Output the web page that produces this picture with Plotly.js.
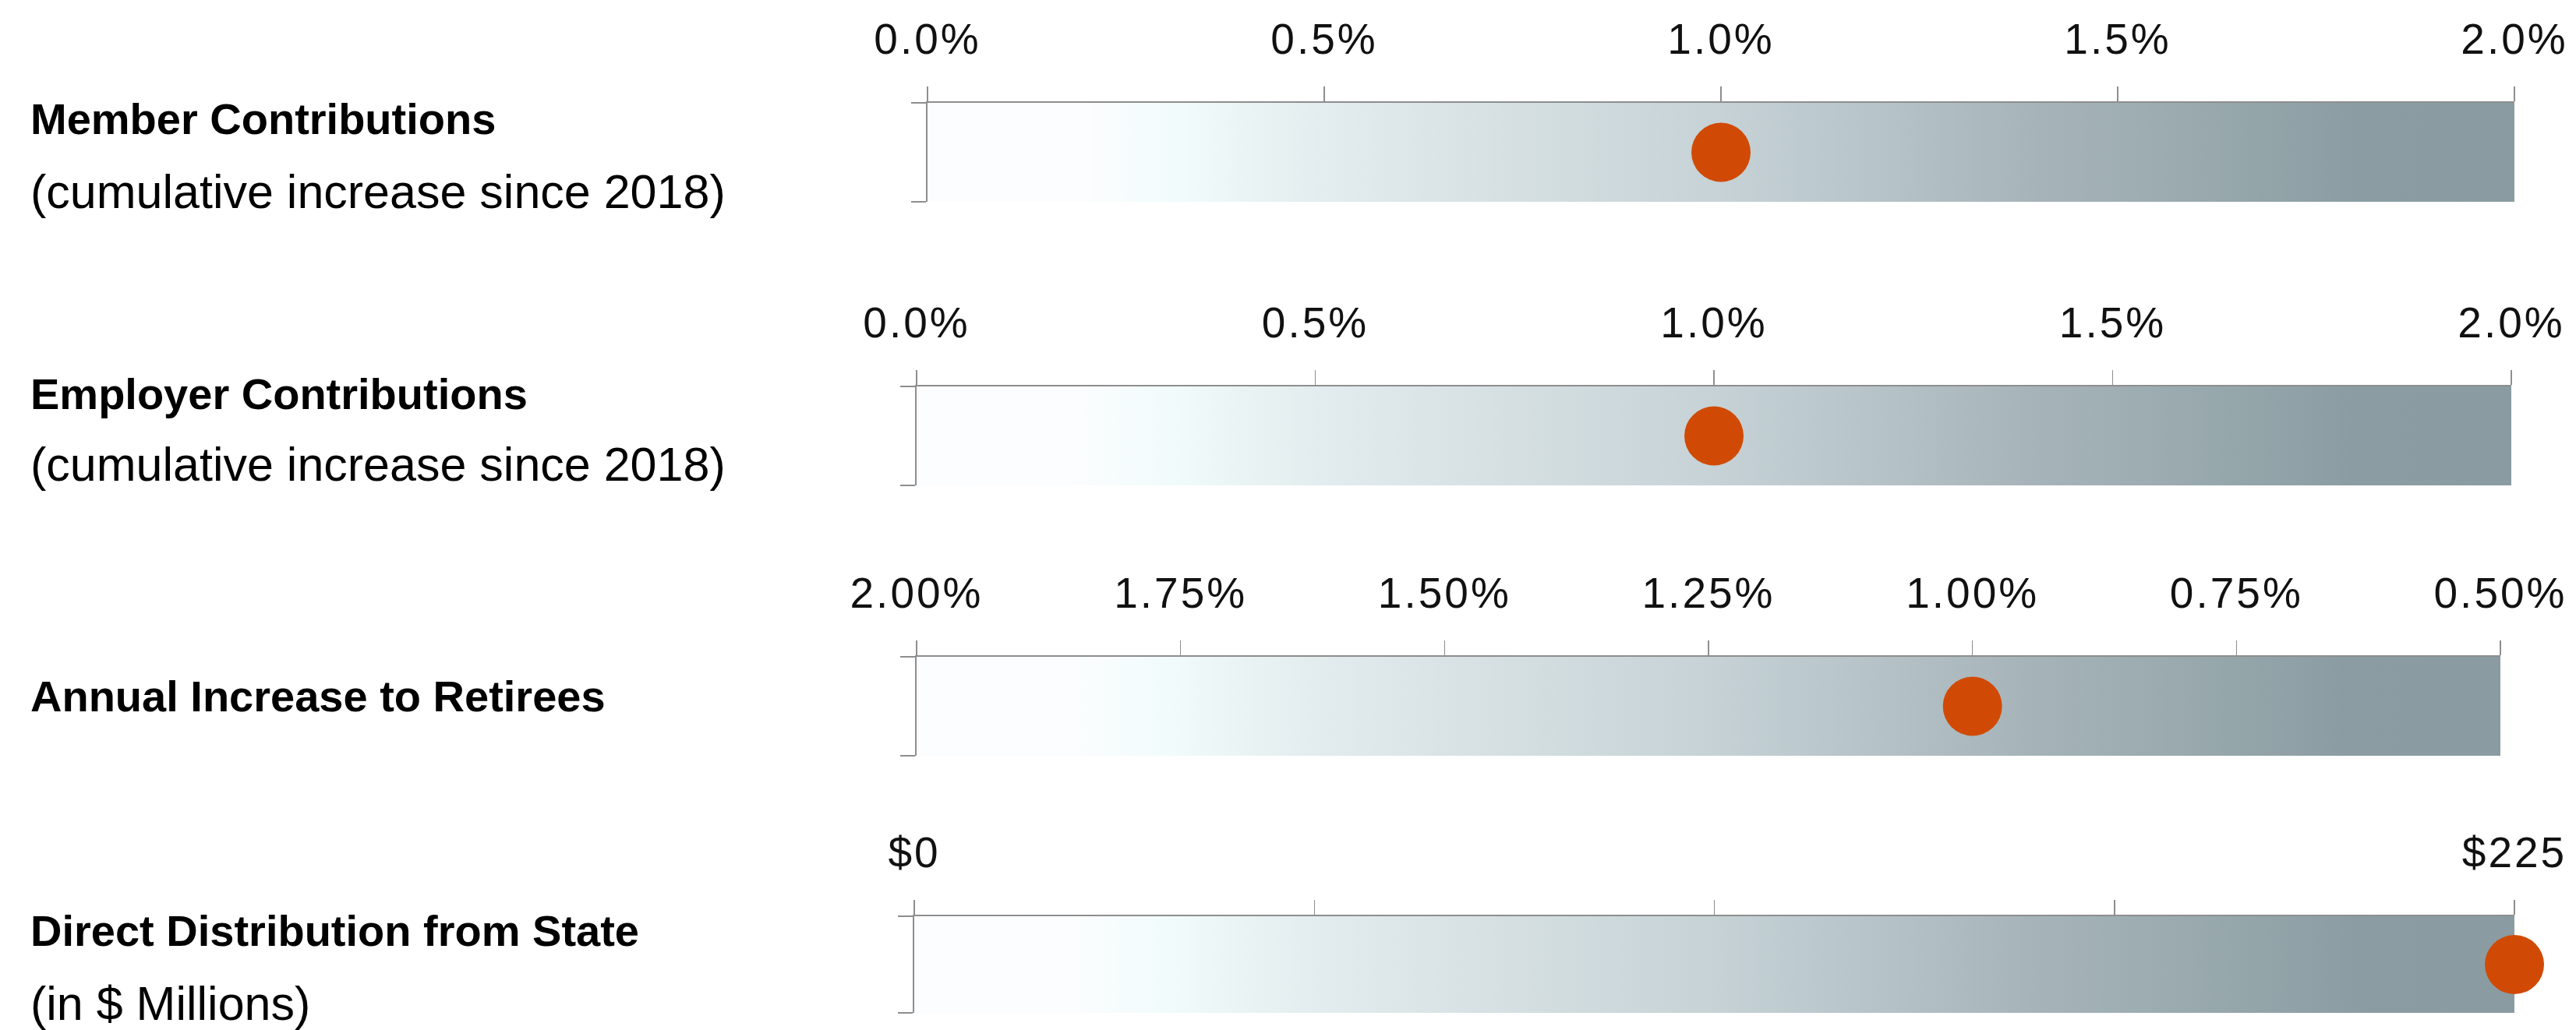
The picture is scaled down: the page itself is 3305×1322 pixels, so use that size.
<!DOCTYPE html>
<html>
<head>
<meta charset="utf-8">
<script src="https://cdn.plot.ly/plotly-3.0.1.min.js"></script>
<style>
  html, body { margin: 0; padding: 0; background: #ffffff; }
  #chart { width: 3305px; height: 1322px; }
  .xtick text, .x2tick text, .x3tick text, .x4tick text { letter-spacing: 3px; }
</style>
</head>
<body>
<div id="chart"></div>
<script>
// ---------------- DATA ----------------
const categories = ["Member Contributions", "Employer Contributions", "Annual Increase to Retirees", "Direct Distribution from State"];
const subtitles  = ["(cumulative increase since 2018)", "(cumulative increase since 2018)", "", "(in $ Millions)"];
const values     = [1.0, 1.0, 1.0, 225];
const rangeMin   = [0, 0, 0.5, 0];
const rangeMax   = [2, 2, 2.0, 225];
const reversedAxis = [false, false, true, false];

const ticksMember    = [0, 0.5, 1.0, 1.5, 2.0];
const labelsMember   = ["0.0%", "0.5%", "1.0%", "1.5%", "2.0%"];
const ticksEmployer  = [0, 0.5, 1.0, 1.5, 2.0];
const labelsEmployer = ["0.0%", "0.5%", "1.0%", "1.5%", "2.0%"];
const ticksRetirees  = [2.0, 1.75, 1.5, 1.25, 1.0, 0.75, 0.5];
const labelsRetirees = ["2.00%", "1.75%", "1.50%", "1.25%", "1.00%", "0.75%", "0.50%"];
const ticksState     = [0, 56.25, 112.5, 168.75, 225];
const labelsState    = ["$0", "", "", "", "$225"];

const tickVals  = [ticksMember, ticksEmployer, ticksRetirees, ticksState];
const tickTexts = [labelsMember, labelsEmployer, labelsRetirees, labelsState];

// ---------------- LAYOUT GEOMETRY (pixels) ----------------
const W = 3305, H = 1322;
const boxes = [
  {x0: 1190, x1: 3226, top: 132,  bot: 259},
  {x0: 1176, x1: 3222, top: 496,  bot: 623},
  {x0: 1176, x1: 3208, top: 843,  bot: 970},
  {x0: 1173, x1: 3226, top: 1176, bot: 1300}
];
const titleOffset = [20, 10, 51, 18];
const subOffset   = [114, 100, 0, 112];

const gradient = [
  [0.00, '#fcfdfe'],
  [0.10, '#fbfdfe'],
  [0.16, '#f1fbfb'],
  [0.25, '#e3ecee'],
  [0.50, '#c6d2d6'],
  [0.70, '#a6b4b9'],
  [0.83, '#95a6ab'],
  [0.90, '#8b9da3'],
  [1.00, '#8a9ca2']
];

const axisGray = '#8e8e8e';
const fontFam = 'Liberation Sans, Arial, Helvetica, sans-serif';

const traces = [];
const layout = {
  width: W, height: H,
  margin: {l: 0, r: 0, t: 0, b: 0},
  paper_bgcolor: '#ffffff',
  plot_bgcolor: 'rgba(0,0,0,0)',
  showlegend: false,
  annotations: []
};

categories.forEach((cat, i) => {
  const n = i === 0 ? '' : String(i + 1);
  const xa = 'x' + n, ya = 'y' + n;
  const b = boxes[i];

  traces.push({
    type: 'scatter', mode: 'lines',
    x: [rangeMin[i], rangeMax[i], rangeMax[i], rangeMin[i]],
    y: [-1, -1, 1, 1],
    fill: 'toself',
    fillgradient: {type: 'horizontal', colorscale: gradient},
    line: {width: 0},
    hoverinfo: 'skip',
    xaxis: xa, yaxis: ya
  });
  traces.push({
    type: 'scatter', mode: 'markers',
    x: [values[i]], y: [0],
    marker: {size: 76, color: '#d14a05', line: {width: 0}},
    cliponaxis: false,
    xaxis: xa, yaxis: ya
  });

  layout['xaxis' + n] = {
    domain: [b.x0 / W, b.x1 / W],
    anchor: ya, side: 'top',
    range: reversedAxis[i] ? [rangeMax[i], rangeMin[i]] : [rangeMin[i], rangeMax[i]],
    tickmode: 'array', tickvals: tickVals[i], ticktext: tickTexts[i],
    ticks: 'outside', ticklen: 19, tickwidth: 1.5, tickcolor: axisGray,
    showline: true, linecolor: axisGray, linewidth: 2.5,
    showgrid: false, zeroline: false, fixedrange: true,
    tickfont: {family: fontFam, size: 55, color: '#111111'},
    ticklabelstandoff: 20
  };
  layout['yaxis' + n] = {
    domain: [1 - b.bot / H, 1 - b.top / H],
    anchor: xa, range: [-1, 1],
    tickmode: 'array', tickvals: [-1, 1], ticktext: ['', ''],
    ticks: 'outside', ticklen: 19, tickwidth: 1.5, tickcolor: axisGray,
    showticklabels: false,
    showline: true, linecolor: axisGray, linewidth: 2,
    showgrid: false, zeroline: false, fixedrange: true
  };

  layout.annotations.push({
    xref: 'paper', yref: 'paper', x: 37 / W, y: 1 - (b.top + titleOffset[i]) / H,
    xanchor: 'left', yanchor: 'middle', showarrow: false,
    text: cat, font: {family: fontFam, size: 56, color: '#000000', weight: 700}
  });
  if (subtitles[i]) {
    layout.annotations.push({
      xref: 'paper', yref: 'paper', x: 37 / W, y: 1 - (b.top + subOffset[i]) / H,
      xanchor: 'left', yanchor: 'middle', showarrow: false,
      text: subtitles[i], font: {family: fontFam, size: 61, color: '#000000'}
    });
  }
});

Plotly.newPlot('chart', traces, layout, {displayModeBar: false, staticPlot: true});
</script>
</body>
</html>
